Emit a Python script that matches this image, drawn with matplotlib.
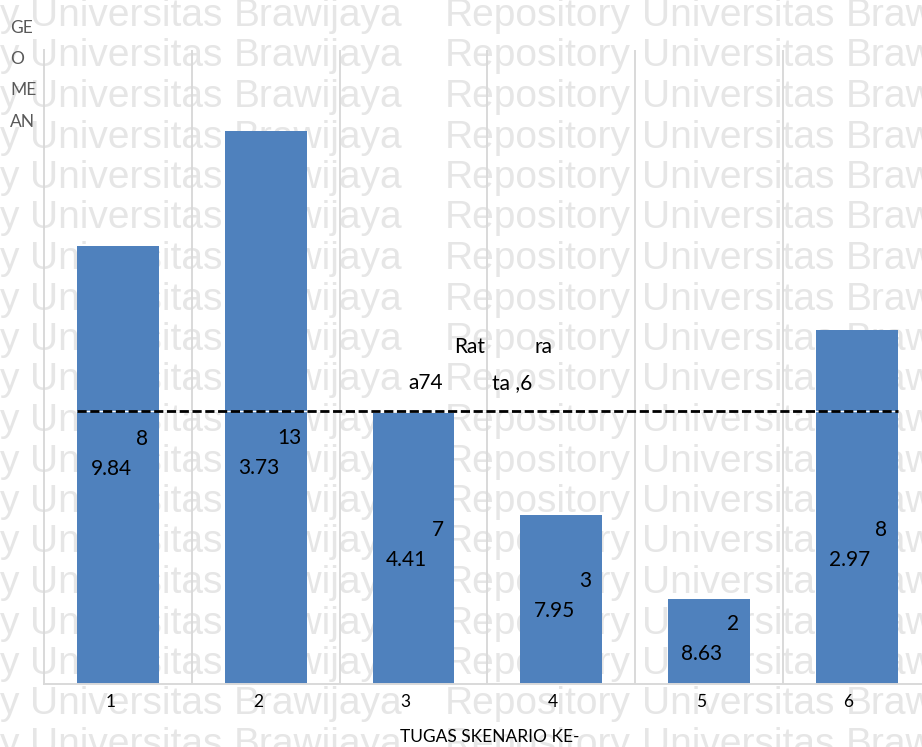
import numpy as np
import matplotlib
matplotlib.use("Agg")
import matplotlib.pyplot as plt

# ---------------- data ----------------
scenarios = ["1", "2", "3", "4", "5", "6"]
geomean = [89.84, 133.73, 74.41, 37.95, 28.63, 82.97]
x_title = "TUGAS SKENARIO KE-"
y_title_lines = ["GE", "O", "ME", "AN"]
watermark_words = ["y", "Universitas", "Brawijaya", "Repository", "Universitas", "Brawijaya"]

# ---------------- layout ----------------
W, H, DPI = 922, 747, 100
AX_L, AX_R, AX_T, AX_B = 44.3, 930.4, 50, 684
# value axis of the reference is not linear: apparent bar heights (px) per value
scale_px = [438, 553, 271, 169, 85, 354]
label_y_px = [439, 438, 530, 581, 624, 530]
watermark_x_px = [0, 30, 234, 445, 642, 846]

order = np.argsort(geomean)
kv = np.concatenate([[0.0], np.array(geomean)[order], [300.0]])
kh = np.concatenate([[0.0], np.array(scale_px, float)[order], [0.0]])
slope = (kh[-2] - kh[-3]) / (kv[-2] - kv[-3])
kh[-1] = kh[-2] + slope * (kv[-1] - kv[-2])

def fwd(v):
    return np.interp(v, kv, kh)

def inv(h):
    return np.interp(h, kh, kv)

fig = plt.figure(figsize=(W / DPI, H / DPI), dpi=DPI)
fig.patch.set_facecolor("white")

# watermark (background)
wm_color = "#e6e6e6"
for k in range(19):
    yb = 26 + 40.5 * k
    for word, xx in zip(watermark_words, watermark_x_px):
        fig.text(xx / W, 1 - yb / H, word, fontsize=28, color=wm_color,
                 family="Liberation Sans", ha="left", va="baseline", zorder=-1)

ax = fig.add_axes([AX_L / W, (H - AX_B) / H, (AX_R - AX_L) / W, (AX_B - AX_T) / H])
ax.set_facecolor("none")
ax.set_yscale("function", functions=(fwd, inv))
ax.set_ylim(0, inv(AX_B - AX_T))
ax.set_xlim(-0.5, len(scenarios) - 0.5)

x = np.arange(len(scenarios))
bw = 0.555
ax.bar(x, geomean, width=bw, color="#4f81bd", zorder=2)

# grid / spines
ax.set_axisbelow(True)
ax.set_xticks(np.arange(0.5, len(scenarios) - 0.5, 1), minor=True)
ax.grid(which="minor", axis="x", color="#d9d9d9", lw=1.4)
ax.grid(which="major", visible=False)
for s in ["top", "right"]:
    ax.spines[s].set_visible(False)
for s in ["left", "bottom"]:
    ax.spines[s].set_color("#d9d9d9")
    ax.spines[s].set_linewidth(1.4)
ax.set_yticks([])
ax.set_xticks(x - 0.054, scenarios)
ax.tick_params(which="both", length=0, pad=7)
for lbl in ax.get_xticklabels():
    lbl.set_fontfamily("Lato")
    lbl.set_fontsize(12.5)
    lbl.set_color("black")

# average line
avg = float(np.mean(geomean))
ax.hlines(avg, -bw / 2, x[-1] + bw / 2, color="white", lw=1.0, zorder=3)
ax.hlines(avg, -bw / 2, x[-1] + bw / 2, color="black", lw=2.0,
          linestyles=(0, (3.3, 1.3)), zorder=4)

avg_str = f"{avg:.1f}".replace(".", ",")
whole, dec = avg_str.split(",")
pieces = [("Rat", 470, 347), ("ra", 544, 347), ("a" + whole, 426, 383), ("ta ," + dec, 512, 383)]
for s, px, py in pieces:
    fig.text(px / W, 1 - py / H, s, fontsize=15, family="Lato", ha="center", va="center")

# data labels (split over two lines as in the reference)
for i, v in enumerate(geomean):
    s = f"{v:.2f}"
    frac = (AX_B - label_y_px[i]) / (AX_B - AX_T)
    ax.annotate(s[:-4], xy=(i, frac), xycoords=("data", "axes fraction"),
                xytext=(24, 0), textcoords="offset pixels", ha="center", va="center",
                fontsize=15, family="Lato", zorder=5)
    ax.annotate(s[-4:], xy=(i, frac), xycoords=("data", "axes fraction"),
                xytext=(-7, -30), textcoords="offset pixels", ha="center", va="center",
                fontsize=15, family="Lato", zorder=5)

# axis titles
fig.text(490 / W, 1 - 737 / H, x_title, fontsize=12.5, family="Lato", ha="center", va="center")
for j, s in enumerate(y_title_lines):
    fig.text(10 / W, 1 - (27.7 + 31.3 * j) / H, s, fontsize=12.5, family="Lato",
             color="#595959", ha="left", va="center")

fig.savefig("out.png", dpi=DPI)
